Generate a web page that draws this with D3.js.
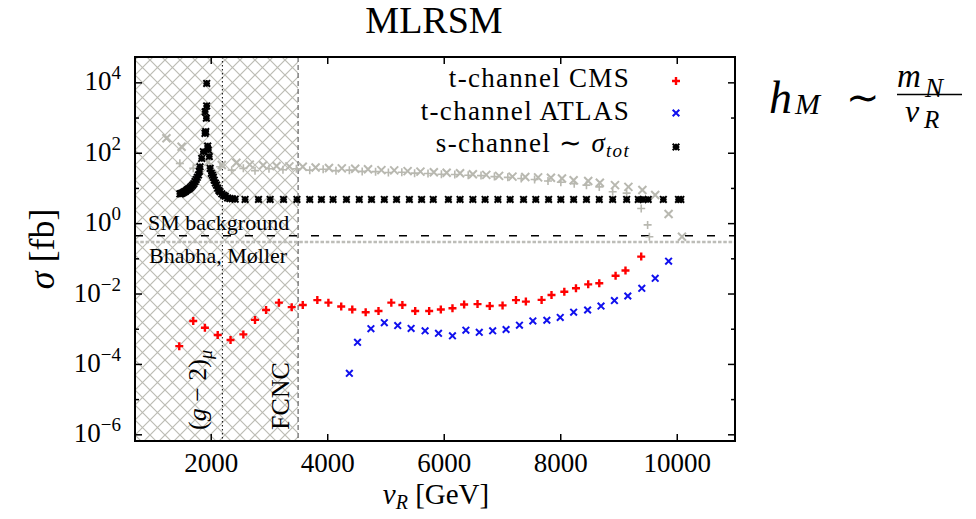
<!DOCTYPE html>
<html>
<head>
<meta charset="utf-8">
<script src="https://cdn.jsdelivr.net/npm/d3@7"></script>
<style>
  body { margin: 0; background: #fff; }
  text { font-family: "Liberation Serif", "Times New Roman", serif; fill: #000; }
</style>
</head>
<body>
<svg id="chart" width="976" height="519"></svg>
<script>
// ---- data ----
var xTicks = [2000, 4000, 6000, 8000, 10000];
var yMajor = [1e-6, 1e-4, 1e-2, 1, 1e2, 1e4];
var yExp = ["−6", "−4", "−2", "0", "2", "4"];
var yMinor = [1e-5, 1e-3, 1e-1, 10, 1e3];

var cmsV = [1460, 1700, 1900, 2120, 2340, 2560, 2760, 2950, 3170, 3390, 3580, 3830, 4020, 4240, 4430, 4660, 4880, 5100, 5290, 5510, 5750, 5950, 6150, 6350, 6580, 6790, 7010, 7240, 7410, 7680, 7850, 8070, 8270, 8480, 8670, 8950, 9120, 9390];
var cmsS = [3.2e-4, 1.66e-3, 1.07e-3, 6.6e-4, 4.8e-4, 6.9e-4, 1.78e-3, 3.4e-3, 5.5e-3, 4.1e-3, 4.7e-3, 6.5e-3, 5.5e-3, 4.3e-3, 3.5e-3, 2.95e-3, 3.2e-3, 5.5e-3, 4.7e-3, 3.2e-3, 3.2e-3, 3.5e-3, 3.8e-3, 4.9e-3, 5.0e-3, 4.4e-3, 4.6e-3, 6.5e-3, 5.9e-3, 6.6e-3, 9.1e-3, 1.12e-2, 1.41e-2, 1.82e-2, 1.95e-2, 3.2e-2, 4.5e-2, 0.112];

var atlasV = [4380, 4520, 4750, 4980, 5210, 5440, 5680, 5910, 6150, 6380, 6610, 6840, 7070, 7300, 7530, 7770, 8000, 8230, 8470, 8700, 8930, 9160, 9400, 9630, 9860];
var atlasS = [5.4e-5, 4.1e-4, 1.0e-3, 1.48e-3, 1.23e-3, 1.02e-3, 8.7e-4, 7.4e-4, 6.3e-4, 9.1e-4, 7.9e-4, 8.7e-4, 9.5e-4, 1.26e-3, 1.66e-3, 1.74e-3, 2.09e-3, 2.95e-3, 3.4e-3, 4.4e-3, 6.3e-3, 8.5e-3, 1.41e-2, 2.7e-2, 8.3e-2];

var sV = [1470, 1490, 1510, 1530, 1550, 1570, 1590, 1610, 1630, 1650, 1670, 1690, 1710, 1730, 1750, 1770, 1790, 1805, 1816, 1845, 1873, 1902, 1915, 1905, 1925, 1930, 1931, 1948, 1958, 1975, 1990, 2010, 2030, 2045, 2060, 2080, 2100, 2120, 2140, 2160, 2190, 2220, 2250, 2290, 2330, 2370, 2420,
  2590, 2820, 3020, 3250, 3480, 3700, 3900, 4100, 4330, 4550, 4760, 4980, 5190, 5410, 5620, 5820, 6080, 6280, 6500, 6710, 6930, 7140, 7370, 7580, 7800, 8010, 8230, 8450, 8670, 8900, 9140, 9340, 9420, 9510, 9770, 10030, 10070];
var sS = [6.8, 6.9, 7.1, 7.4, 7.8, 8.1, 8.7, 9.1, 9.5, 10.2, 11, 12, 13.2, 15.1, 17.4, 20, 23.4, 29.5, 40, 69, 107, 355, 398, 1450, 955, 2140, 9330, 155, 120, 78, 36, 26, 23, 20, 16.6, 13.8, 12, 9.8, 8.5, 7.8, 6.8, 6.2, 5.8, 5.2, 5.0, 4.9, 4.8,
  4.7, 4.7, 4.7, 4.7, 4.7, 4.7, 4.7, 4.7, 4.7, 4.7, 4.7, 4.7, 4.7, 4.7, 4.7, 4.7, 4.7, 4.7, 4.7, 4.7, 4.7, 4.7, 4.7, 4.7, 4.7, 4.7, 4.7, 4.7, 4.7, 4.7, 4.7, 4.7, 4.7, 4.7, 4.7, 4.7, 4.7];

var grayXV = [1240, 1500, 1960, 2190, 2440, 2670, 2900, 3130, 3350, 3580, 3800, 4030, 4250, 4480, 4700, 4930, 5150, 5380, 5600, 5830, 6050, 6280, 6500, 6730, 6950, 7180, 7400, 7620, 7840, 8030, 8230, 8480, 8680, 8940, 9170, 9410, 9630, 9860, 10090];
var grayXS = [257, 148, 55, 45, 52, 46, 44, 42, 41, 40, 38, 37, 36, 35, 34, 32, 31.5, 30, 29, 28, 27, 26, 24.5, 23.5, 22, 21, 20.5, 20, 19.5, 18.6, 16.6, 15.8, 14.1, 12, 10.7, 8.7, 6.3, 1.82, 0.41];

var grayPV = [1470, 1700, 2160, 2360, 2560, 2760, 3000, 3240, 3470, 3700, 3930, 4150, 4380, 4600, 4830, 5050, 5280, 5500, 5730, 5960, 6190, 6420, 6640, 6870, 7100, 7330, 7560, 7790, 8010, 8240, 8450, 8670, 8900, 9140, 9390, 9500, 9530];
var grayPS = [50, 36, 40, 32, 36, 31, 35, 33, 35, 32, 34, 31, 32, 29.5, 29, 27.5, 28, 26.3, 25.7, 24.5, 24, 23, 22.4, 21, 20, 18.6, 17.4, 15.8, 14.5, 13.2, 12, 10.7, 7.8, 7.1, 2.6, 0.89, 0.41];

var smBackground = 0.44;
var bhabha = 0.29;
var gm2Bound = 2200;
var fcncBound = 3500;

// ---- layout ----
var margin = { top: 57, right: 241, bottom: 78, left: 135 },
    width = 976 - margin.left - margin.right,
    height = 519 - margin.top - margin.bottom;

var svg = d3.select("#chart");

var x = d3.scaleLinear().domain([700, 11000]).range([margin.left, margin.left + width]);
var y = d3.scaleLog().domain([Math.pow(10, -6.19), Math.pow(10, 4.72)]).range([margin.top + height, margin.top]);

// gnuplot style marks: plus, cross, and both together
var plusSym = { draw: function (c, s) { var r = Math.sqrt(s) / 2; c.moveTo(-r, 0); c.lineTo(r, 0); c.moveTo(0, -r); c.lineTo(0, r); } };
var crossSym = { draw: function (c, s) { var r = Math.sqrt(s) / 2; c.moveTo(-r, -r); c.lineTo(r, r); c.moveTo(-r, r); c.lineTo(r, -r); } };
var starSym = { draw: function (c, s) { plusSym.draw(c, s); crossSym.draw(c, s); } };

var defs = svg.append("defs");
var pat = defs.append("pattern")
    .attr("id", "hatch")
    .attr("patternUnits", "userSpaceOnUse")
    .attr("width", 15).attr("height", 15);
pat.append("path")
    .attr("d", "M0,0L15,15M0,15L15,0M-1,1L1,-1M14,16L16,14M-1,14L1,16M14,-1L16,1")
    .attr("stroke", "#bcbcb4")
    .attr("stroke-width", 1.2);

defs.append("clipPath").attr("id", "plotclip")
    .append("rect")
    .attr("x", margin.left).attr("y", margin.top)
    .attr("width", width).attr("height", height);

// excluded region
svg.append("rect")
    .attr("x", x(700)).attr("y", margin.top)
    .attr("width", x(fcncBound) - x(700)).attr("height", height)
    .attr("fill", "url(#hatch)");

// vertical bounds
svg.append("line")
    .attr("x1", x(gm2Bound)).attr("x2", x(gm2Bound))
    .attr("y1", margin.top).attr("y2", margin.top + height)
    .attr("stroke", "#000").attr("stroke-width", 1)
    .attr("stroke-dasharray", "1.5,2.5");
svg.append("line")
    .attr("x1", x(fcncBound)).attr("x2", x(fcncBound))
    .attr("y1", margin.top).attr("y2", margin.top + height)
    .attr("stroke", "#444").attr("stroke-width", 1)
    .attr("stroke-dasharray", "5,3");

// horizontal backgrounds
svg.append("line")
    .attr("x1", margin.left).attr("x2", margin.left + width)
    .attr("y1", y(bhabha)).attr("y2", y(bhabha))
    .attr("stroke", "#bdbdb8").attr("stroke-width", 2.5)
    .attr("stroke-dasharray", "3.5,1.8");
svg.append("line")
    .attr("x1", margin.left).attr("x2", margin.left + width)
    .attr("y1", y(smBackground)).attr("y2", y(smBackground))
    .attr("stroke", "#000").attr("stroke-width", 1.5)
    .attr("stroke-dasharray", "8,14");

var plot = svg.append("g").attr("clip-path", "url(#plotclip)");

function drawSeries(vs, ss, type, size, color, sw) {
    var sym = d3.symbol().type(type).size(size);
    plot.append("g").selectAll("path")
        .data(d3.zip(vs, ss))
        .enter().append("path")
        .attr("transform", function (d) { return "translate(" + x(d[0]) + "," + y(d[1]) + ")"; })
        .attr("d", sym)
        .attr("fill", "none")
        .attr("stroke", color)
        .attr("stroke-width", sw);
}

drawSeries(grayXV, grayXS, crossSym, 64, "#b8b8b0", 2);
drawSeries(grayPV, grayPS, plusSym, 64, "#b8b8b0", 1.6);
drawSeries(sV, sS, starSym, 44, "#000", 2);
drawSeries(cmsV, cmsS, plusSym, 64, "#ff0000", 2.4);
drawSeries(atlasV, atlasS, crossSym, 44, "#1010ee", 2);

// ---- axes ----
var fontTick = 27;
var xAxisB = svg.append("g")
    .attr("transform", "translate(0," + (margin.top + height) + ")")
    .call(d3.axisBottom(x).tickValues(xTicks).tickSize(-7).tickPadding(12).tickFormat(d3.format("d")));
xAxisB.selectAll("text").style("font-size", fontTick + "px").style("font-family", "Liberation Serif");
svg.append("g")
    .attr("transform", "translate(0," + margin.top + ")")
    .call(d3.axisTop(x).tickValues(xTicks).tickSize(-7).tickFormat(""));

svg.append("g")
    .attr("transform", "translate(" + margin.left + ",0)")
    .call(d3.axisLeft(y).tickValues(yMajor).tickSize(-7).tickFormat(""));
svg.append("g")
    .attr("transform", "translate(" + margin.left + ",0)")
    .call(d3.axisLeft(y).tickValues(yMinor).tickSize(-4).tickFormat(""));
svg.append("g")
    .attr("transform", "translate(" + (margin.left + width) + ",0)")
    .call(d3.axisRight(y).tickValues(yMajor).tickSize(-7).tickFormat(""));
svg.append("g")
    .attr("transform", "translate(" + (margin.left + width) + ",0)")
    .call(d3.axisRight(y).tickValues(yMinor).tickSize(-4).tickFormat(""));

svg.selectAll(".domain").remove();
svg.selectAll(".tick line").attr("stroke", "#000").attr("stroke-width", 1.5);

// y tick labels 10^n
yMajor.forEach(function (v, i) {
    var t = svg.append("text")
        .attr("x", margin.left - 14)
        .attr("y", y(v) + 8)
        .attr("text-anchor", "end")
        .style("font-size", fontTick + "px");
    t.append("tspan").text("10");
    t.append("tspan").attr("dy", -11).style("font-size", "19px").text(yExp[i]);
});

// frame
svg.append("rect")
    .attr("x", margin.left).attr("y", margin.top)
    .attr("width", width).attr("height", height)
    .attr("fill", "none").attr("stroke", "#000").attr("stroke-width", 2);

// ---- labels ----
svg.append("text")
    .attr("x", 434).attr("y", 33)
    .attr("text-anchor", "middle")
    .style("font-size", "38px")
    .text("MLRSM");

var xl = svg.append("text")
    .attr("x", 436).attr("y", 504)
    .attr("text-anchor", "middle")
    .style("font-size", "29px");
xl.append("tspan").style("font-style", "italic").text("v");
xl.append("tspan").attr("dy", 5).style("font-style", "italic").style("font-size", "20px").text("R");
xl.append("tspan").attr("dy", -5).text(" [GeV]");

var yl = svg.append("text")
    .attr("transform", "translate(54,249) rotate(-90)")
    .attr("text-anchor", "middle")
    .style("font-size", "36px");
yl.append("tspan").style("font-style", "italic").text("σ");
yl.append("tspan").text(" [fb]");

svg.append("text")
    .attr("x", 148).attr("y", 230)
    .style("font-size", "22px")
    .text("SM background");
svg.append("text")
    .attr("x", 149).attr("y", 263)
    .style("font-size", "22px")
    .text("Bhabha, Møller");

var gl = svg.append("text")
    .attr("transform", "translate(206,430) rotate(-90)")
    .style("font-size", "26px");
gl.append("tspan").text("(");
gl.append("tspan").style("font-style", "italic").text("g");
gl.append("tspan").text(" − 2)");
gl.append("tspan").attr("dy", 6).style("font-style", "italic").style("font-size", "18px").text("μ");

svg.append("text")
    .attr("transform", "translate(289,430) rotate(-90)")
    .style("font-size", "26px")
    .text("FCNC");

// legend
var legX = 630, symX = 676;
var legRows = [
    { y: 87, sy: 81, type: plusSym, size: 64, color: "#ff0000", sw: 2.4 },
    { y: 120, sy: 113, type: crossSym, size: 44, color: "#1010ee", sw: 2 },
    { y: 152, sy: 147, type: starSym, size: 44, color: "#000", sw: 2 }
];
var legFont = { "font-size": "27px", "letter-spacing": "1.3px" };
function legText(r) {
    return svg.append("text").attr("x", legX).attr("y", r.y).attr("text-anchor", "end")
        .style("font-size", legFont["font-size"]).style("letter-spacing", legFont["letter-spacing"]);
}
legText(legRows[0]).text("t-channel CMS");
legText(legRows[1]).text("t-channel ATLAS");
var l3 = legText(legRows[2]);
l3.append("tspan").text("s-channel ∼ ");
l3.append("tspan").style("font-style", "italic").text("σ");
l3.append("tspan").attr("dy", 5).style("font-style", "italic").style("font-size", "19px").text("tot");
legRows.forEach(function (r) {
    svg.append("path")
        .attr("transform", "translate(" + symX + "," + r.sy + ")")
        .attr("d", d3.symbol().type(r.type).size(r.size))
        .attr("fill", "none").attr("stroke", r.color).attr("stroke-width", r.sw);
});

// h_M ~ m_N / v_R
var ann = svg.append("g");
ann.append("text").attr("x", 769).attr("y", 113).style("font-size", "46px").style("font-style", "italic").text("h");
ann.append("text").attr("x", 795).attr("y", 114).style("font-size", "30px").style("font-style", "italic").text("M");
ann.append("text").attr("x", 846).attr("y", 111).style("font-size", "40px").text("∼");
ann.append("text").attr("x", 897).attr("y", 87).style("font-size", "33px").style("font-style", "italic").text("m");
ann.append("text").attr("x", 925).attr("y", 97).style("font-size", "27px").style("font-style", "italic").text("N");
ann.append("line").attr("x1", 897).attr("x2", 962).attr("y1", 94.5).attr("y2", 94.5)
    .attr("stroke", "#000").attr("stroke-width", 1.5);
ann.append("text").attr("x", 905).attr("y", 122).style("font-size", "32px").style("font-style", "italic").text("v");
ann.append("text").attr("x", 924).attr("y", 128).style("font-size", "25px").style("font-style", "italic").text("R");
</script>
</body>
</html>
